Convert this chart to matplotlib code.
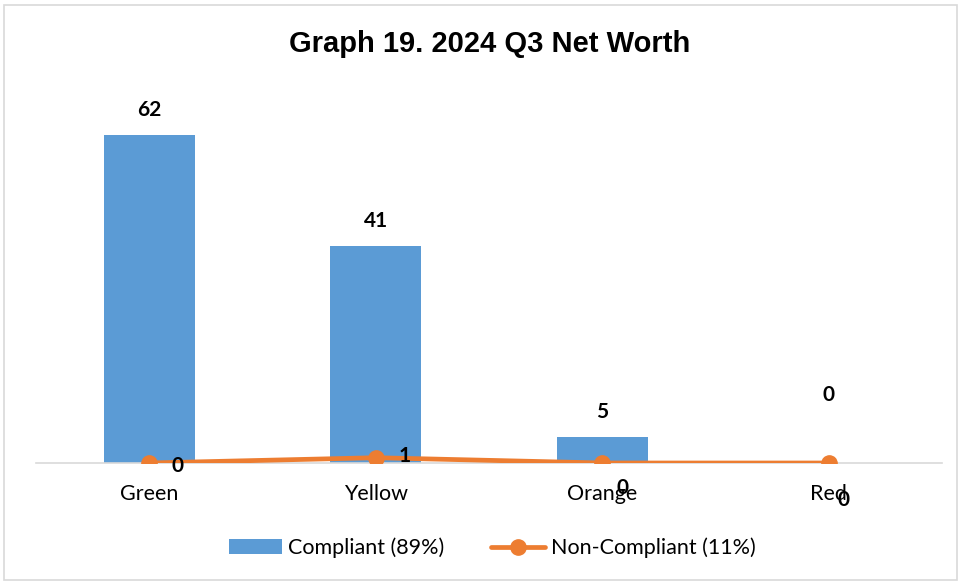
import matplotlib.pyplot as plt
import numpy as np
from matplotlib.patches import Rectangle

plt.rcParams['font.family'] = ['Lato', 'DejaVu Sans']

categories = ['Green', 'Yellow', 'Orange', 'Red']
compliant = [62, 41, 5, 0]
non_compliant = [0, 1, 0, 0]
series_names = ['Compliant (89%)', 'Non-Compliant (11%)']
title = 'Graph 19. 2024 Q3 Net Worth'

# label offsets in pixels
bar_label_offsets = [(0, 25), (0, 25), (0, 25), (0, 68)]
line_label_offsets = [(28, -3), (29, 2), (20, -25), (15, -37)]

fig = plt.figure(figsize=(9.61, 5.84), dpi=100)
fig.patches.append(Rectangle((0.004, 0.006), 0.992, 0.986, transform=fig.transFigure,
                             fill=False, edgecolor='#D9D9D9', linewidth=1.2))
ax = fig.add_axes([0.0375, 0.2072, 0.9428, 0.6336])

x = np.arange(len(categories))
bars = ax.bar(x, compliant, width=0.4, color='#5B9BD5', zorder=2)
line, = ax.plot(x, non_compliant, color='#ED7D31', linewidth=3.4, marker='o', markersize=11,
                zorder=3, solid_capstyle='round')

for i, v in enumerate(compliant):
    ax.annotate(str(v), (x[i], v), xytext=bar_label_offsets[i], textcoords='offset pixels',
                ha='center', va='center', fontsize=15, fontweight='bold', color='black')
for i, v in enumerate(non_compliant):
    ax.annotate(str(v), (x[i], v), xytext=line_label_offsets[i], textcoords='offset pixels',
                ha='center', va='center', fontsize=15, fontweight='bold', color='black', zorder=4)

ax.set_xlim(-0.5, 3.5)
ax.set_ylim(0, 70)
ax.set_xticks(x)
ax.set_xticklabels(categories, fontsize=15.5)
ax.tick_params(axis='x', length=0, pad=15)
ax.set_yticks([])
for s in ['top', 'right', 'left']:
    ax.spines[s].set_visible(False)
ax.spines['bottom'].set_color('#D9D9D9')
ax.spines['bottom'].set_linewidth(1.2)

fig.text(0.509, 0.925, title, ha='center', va='center', fontsize=21, fontweight='bold',
         family=['Liberation Sans', 'DejaVu Sans'])

fig.legend([bars, line], series_names, loc='center', bbox_to_anchor=(0.512, 0.062), ncol=2,
           frameon=False, fontsize=15.5, handlelength=2.5, columnspacing=2.2, handletextpad=0.25)

plt.savefig('out.png', dpi=100)
